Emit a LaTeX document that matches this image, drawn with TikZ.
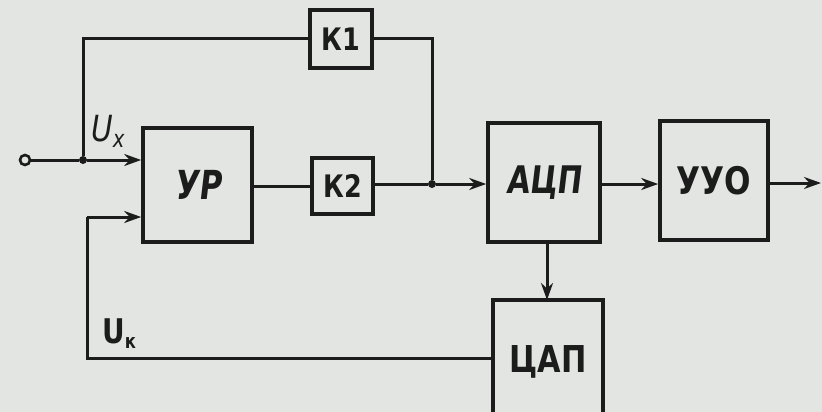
\documentclass[tikz,border=0pt]{standalone}
\usepackage{fontspec}
\setmainfont{DejaVu Sans}[FakeStretch=0.82]
\newfontfamily\slfont{DejaVu Sans}[FakeStretch=0.78,FakeSlant=0.12]
\usetikzlibrary{arrows.meta}
\definecolor{paper}{RGB}{226,229,226}
\definecolor{ink}{RGB}{28,28,28}
\tikzset{
  blk/.style={draw=ink, line width=3.6pt, rectangle, inner sep=0pt, text=ink},
  wire/.style={draw=ink, line width=3pt},
  flow/.style={wire, -{Stealth[length=17pt,width=12pt]}},
  dot/.style={circle, fill=ink, inner sep=0pt, minimum size=8pt},
}
\begin{document}
\begin{tikzpicture}[x=1pt,y=-1pt]
  \fill[paper] (0,0) rectangle (822,412);
  \useasboundingbox (0,0) rectangle (822,412);

  % blocks
  \node[blk, minimum width=109pt, minimum height=114pt, font=\slfont\bfseries\fontsize{40}{40}\selectfont] (ur) at (197.5,185) {УР};
  \node[blk, minimum width=62pt, minimum height=58pt, font=\bfseries\fontsize{31}{31}\selectfont] (k1) at (341,39) {К1};
  \node[blk, minimum width=61pt, minimum height=56pt, font=\bfseries\fontsize{31}{31}\selectfont] (k2) at (342.5,186) {К2};
  \node[blk, minimum width=112pt, minimum height=119pt, font=\slfont\bfseries\fontsize{38}{38}\selectfont] (adc) at (544,182.5) {АЦП};
  \node[blk, minimum width=108pt, minimum height=119pt, font=\bfseries\fontsize{38}{38}\selectfont] (uuo) at (714,180.5) {УУО};
  \node[blk, minimum width=110pt, minimum height=124pt, font=\bfseries\fontsize{37}{37}\selectfont] (dac) at (548,362) {ЦАП};

  % terminals and branch points
  \draw[ink, line width=2.6pt, fill=paper] (25,160) circle (5pt);
  \coordinate (in) at (30,160);
  \node[dot] (j1) at (83,160) {};
  \node[dot] (j2) at (432,184) {};
  \coordinate (out) at (821,183);
  \coordinate (fb) at (87,217);

  % signal paths
  \draw[wire] (in) -- (j1);
  \draw[flow] (j1) -- (j1 -| ur.west);
  \draw[wire] (j1) |- (k1.west);
  \draw[wire] (k1.east) -| (j2);
  \draw[wire] (ur.east |- k2.west) -- (k2.west);
  \draw[wire] (k2.east |- j2) -- (j2);
  \draw[flow] (j2) -- (j2 -| adc.west);
  \draw[flow] (adc.east |- j2) -- (uuo.west |- j2);
  \draw[flow] (uuo.east |- out) -- (out);
  \draw[flow] (547,242) -- (547,300);
  \draw[wire] (dac.west |- 0,358) -| (fb);
  \draw[flow] (fb) -- (fb -| ur.west);

  % voltage labels
  \node[text=ink, font=\fontsize{36}{36}\selectfont\itshape] (ux) at (108,131) {U\raisebox{-6pt}{\fontsize{24}{24}\selectfont x}};
  \node[text=ink, font=\bfseries\fontsize{34}{34}\selectfont] (uk) at (119,334) {U\raisebox{-5pt}{\fontsize{20}{20}\selectfont к}};
\end{tikzpicture}
\end{document}
